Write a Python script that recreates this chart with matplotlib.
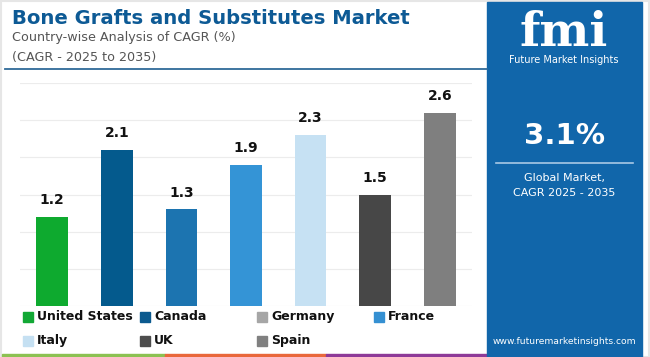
import matplotlib
matplotlib.use("Agg")
import matplotlib.pyplot as plt
from matplotlib.patches import Rectangle
from matplotlib.lines import Line2D

countries = ["United States", "Canada", "Germany", "France", "Italy", "UK", "Spain"]
cagr = [1.2, 2.1, 1.3, 1.9, 2.3, 1.5, 2.6]
bar_colors = ["#0eaa2f", "#045a8d", "#1c74b0", "#3494d6", "#c6e1f3", "#474747", "#7f7f7f"]
legend_colors = ["#12a835", "#0b5a8f", "#a6a6a6", "#3590d2", "#c5e0f2", "#4d4d4d", "#808080"]
y_ticks = [0, 0.5, 1.0, 1.5, 2.0, 2.5, 3.0]

W, H = 650, 357
fig = plt.figure(figsize=(W / 100, H / 100), dpi=100)
fig.patch.set_facecolor("white")

def fx(px):
    return px / W

def fy(py):
    return 1 - py / H

# light outer border
fig.add_artist(Rectangle((0.001, 0.001), 0.998, 0.996, fill=False, edgecolor="#e6e6e6",
                         lw=1.5, transform=fig.transFigure))

# chart axes
ax = fig.add_axes([fx(20), fy(305.7), fx(452), (305.7 - 83.3) / H])
x = list(range(len(countries)))
ax.bar(x, cagr, width=0.49, color=bar_colors, zorder=3)
ax.set_xlim(-0.5, len(countries) - 0.5)
ax.set_ylim(0, 3.0)
for t in y_ticks:
    ax.axhline(t, color="#ececec", lw=0.8, zorder=1)
for xi, v in zip(x, cagr):
    ax.annotate(f"{v}", (xi, v), xytext=(0, 7), textcoords="offset points",
                ha="center", va="bottom", fontsize=10, fontweight="bold",
                color="#111111", family="DejaVu Sans")
ax.set_xticks([])
ax.set_yticks([])
for s in ax.spines.values():
    s.set_visible(False)
ax.patch.set_alpha(0)

# title texts
fig.text(fx(12), fy(18), "Bone Grafts and Substitutes Market", fontsize=14.1,
         fontweight="bold", color="#0d5a95", va="center", ha="left", family="DejaVu Sans")
fig.text(fx(12), fy(38), "Country-wise Analysis of CAGR (%)", fontsize=9.2,
         color="#555555", va="center", ha="left", family="DejaVu Sans")
fig.text(fx(12), fy(57), "(CAGR - 2025 to 2035)", fontsize=9.2,
         color="#555555", va="center", ha="left", family="DejaVu Sans")
fig.add_artist(Line2D([fx(5), fx(487)], [fy(68.5), fy(68.5)], color="#2f6a98", lw=1.3))

# legend
legend_pos = [(28, 316.7), (145, 316.7), (262, 316.7), (379, 316.7),
              (28, 340.7), (145, 340.7), (262, 340.7)]
for (px, py), name, col in zip(legend_pos, countries, legend_colors):
    fig.add_artist(Rectangle((fx(px - 5), fy(py + 5)), fx(10), 10 / H, color=col,
                             transform=fig.transFigure))
    fig.text(fx(px + 9), fy(py), name, fontsize=9, fontweight="bold", color="#111111",
             va="center", ha="left", family="DejaVu Sans")

# bottom color strip
for x0, x1, c in [(2, 165, "#8cc152"), (165, 326, "#e9683b"), (326, 487, "#8e3a98")]:
    fig.add_artist(Rectangle((fx(x0), 0), fx(x1 - x0), 3.5 / H, color=c,
                             transform=fig.transFigure))

# right panel
fig.add_artist(Rectangle((fx(487), 0), fx(641.7 - 487), fy(2), color="#1166aa",
                         transform=fig.transFigure))
cx = fx(564)
fig.text(cx, fy(33), "fmi", fontsize=34, fontweight="bold", color="white",
         ha="center", va="center", family="DejaVu Serif")
fig.text(cx, fy(60), "Future Market Insights", fontsize=7, color="white",
         ha="center", va="center", family="DejaVu Sans")
fig.text(cx, fy(136), "3.1%", fontsize=21, fontweight="bold", color="white",
         ha="center", va="center", family="DejaVu Sans")
fig.add_artist(Line2D([fx(496), fx(633)], [fy(163), fy(163)], color="#a9c9e6", lw=1.2))
fig.text(cx, fy(178), "Global Market,", fontsize=8, color="white",
         ha="center", va="center", family="DejaVu Sans")
fig.text(cx, fy(192.5), "CAGR 2025 - 2035", fontsize=8, color="white",
         ha="center", va="center", family="DejaVu Sans")
fig.text(cx, fy(341), "www.futuremarketinsights.com", fontsize=6.6, color="white",
         ha="center", va="center", family="DejaVu Sans")

fig.savefig("out.png", dpi=100, facecolor="white")
